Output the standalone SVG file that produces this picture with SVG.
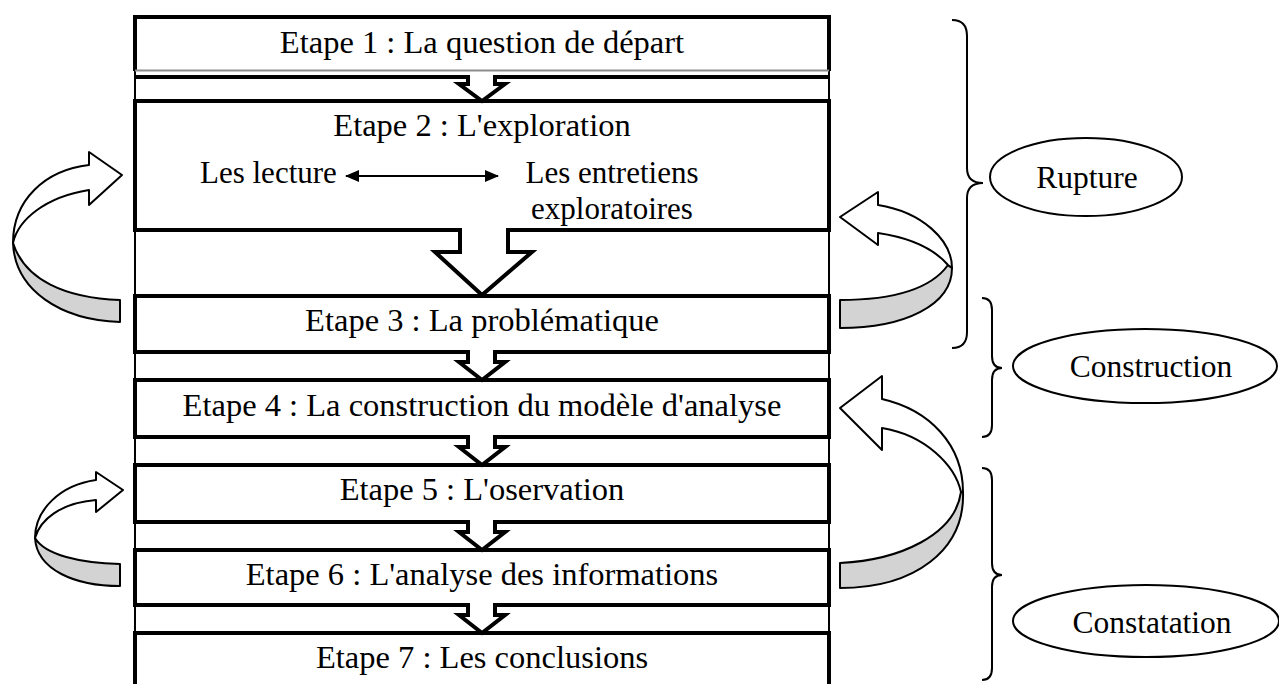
<svg xmlns="http://www.w3.org/2000/svg" width="1279" height="684" viewBox="0 0 1279 684">
<defs>
<style>
.box{fill:none;stroke:#000;stroke-width:4}
.frame{fill:none;stroke:#000;stroke-width:2}
.t{font-size:32.5px;fill:#000}
.s{font-size:31px;fill:#000}
.e{font-size:31.5px;fill:#000}
.m{text-anchor:middle}
.dn{fill:#fff;stroke:#000;stroke-width:4;stroke-linejoin:miter}
.er{fill:#fff;stroke:none}
.cw{fill:#fff;stroke:#000;stroke-width:2;stroke-linejoin:round}
.cg{fill:#d3d3d3;stroke:#000;stroke-width:2;stroke-linejoin:round}
.br{fill:none;stroke:#000;stroke-width:2}
.el{fill:#fff;stroke:#000;stroke-width:2}
</style>
<marker id="ah" viewBox="0 0 14 12" refX="13" refY="6" markerWidth="14" markerHeight="12" orient="auto-start-reverse" markerUnits="userSpaceOnUse">
<path d="M0,0 L14,6 L0,12 z" fill="#000"/>
</marker>
</defs>
<rect width="1279" height="684" fill="#fff"/>

<g id="frame">
<line class="frame" x1="135" y1="17" x2="135" y2="684"/>
<line class="frame" x1="829" y1="17" x2="829" y2="684"/>
</g>

<g id="step1">
<path class="box" d="M135,71 L135,17 L829,17 L829,71"/>
<line x1="135" y1="70.5" x2="829" y2="70.5" stroke="#8c8c8c" stroke-width="2"/>
<text class="t m" font-family="'Liberation Serif', 'Times New Roman', serif" x="482" y="53">Etape 1 : La question de départ</text>
</g>
<line x1="134" y1="77" x2="830" y2="77" stroke="#000" stroke-width="4"/>

<g id="step2">
<rect class="box" x="135" y="101" width="694" height="129"/>
<text class="t m" font-family="'Liberation Serif', 'Times New Roman', serif" x="482" y="136">Etape 2 : L'exploration</text>
<text class="s" font-family="'Liberation Serif', 'Times New Roman', serif" x="200" y="183">Les lecture</text>
<text class="s m" font-family="'Liberation Serif', 'Times New Roman', serif" x="612" y="183">Les entretiens</text>
<text class="s m" font-family="'Liberation Serif', 'Times New Roman', serif" x="612" y="219">exploratoires</text>
<line x1="346" y1="176" x2="498" y2="176" stroke="#000" stroke-width="2" marker-start="url(#ah)" marker-end="url(#ah)"/>
</g>

<g id="step3">
<rect class="box" x="135" y="296" width="694" height="56"/>
<text class="t m" font-family="'Liberation Serif', 'Times New Roman', serif" x="482" y="331">Etape 3 : La problématique</text>
</g>
<g id="step4">
<rect class="box" x="135" y="380" width="694" height="57"/>
<text class="t m" font-family="'Liberation Serif', 'Times New Roman', serif" x="482" y="416">Etape 4 : La construction du modèle d'analyse</text>
</g>
<g id="step5">
<rect class="box" x="135" y="465" width="694" height="57"/>
<text class="t m" font-family="'Liberation Serif', 'Times New Roman', serif" x="482" y="500">Etape 5 : L'oservation</text>
</g>
<g id="step6">
<rect class="box" x="135" y="550" width="694" height="55"/>
<text class="t m" font-family="'Liberation Serif', 'Times New Roman', serif" x="482" y="585">Etape 6 : L'analyse des informations</text>
</g>
<g id="step7">
<rect class="box" x="135" y="633" width="694" height="80"/>
<text class="t m" font-family="'Liberation Serif', 'Times New Roman', serif" x="482" y="668">Etape 7 : Les conclusions</text>
</g>

<g id="rupture">
<ellipse class="el" cx="1086" cy="177" rx="96" ry="39"/>
<text class="e m" font-family="'Liberation Serif', 'Times New Roman', serif" x="1087" y="188">Rupture</text>
</g>
<g id="construction">
<ellipse class="el" cx="1145" cy="366" rx="132" ry="37"/>
<text class="e m" font-family="'Liberation Serif', 'Times New Roman', serif" x="1151" y="377">Construction</text>
</g>
<g id="constatation">
<ellipse class="el" cx="1146" cy="621" rx="133" ry="36"/>
<text class="e m" font-family="'Liberation Serif', 'Times New Roman', serif" x="1152" y="633">Constatation</text>
</g>

<g id="connectors">
<rect class="er" x="470" y="74" width="23" height="6"/>
<path class="dn" d="M468,77 L468,84 L459,84 L482,101 L505,84 L495,84 L495,77"/>
<rect class="er" x="470" y="349" width="23" height="6"/>
<path class="dn" d="M468,352 L468,362 L459,362 L482,380 L505,362 L495,362 L495,352"/>
<rect class="er" x="470" y="434" width="23" height="6"/>
<path class="dn" d="M468,437 L468,447 L459,447 L482,465 L505,447 L495,447 L495,437"/>
<rect class="er" x="470" y="519" width="23" height="6"/>
<path class="dn" d="M468,522 L468,532 L459,532 L482,550 L505,532 L495,532 L495,522"/>
<rect class="er" x="470" y="602" width="23" height="6"/>
<path class="dn" d="M468,605 L468,615 L459,615 L482,633 L505,615 L495,615 L495,605"/>
<rect class="er" x="462" y="227" width="44" height="6"/>
<path class="dn" d="M460,230 L460,252 L435,252 L482,295 L532,252 L508,252 L508,230"/>

<path class="cg" d="M13,243 C15,290 60,320 120,322 L120,300 C65,298 25,280 13,243 Z"/>
<path class="cw" d="M89,165 C45,170 13,200 13,243 C18,220 45,197 89,190 L89,205 L122,175 L89,152 Z"/>
<path class="cg" d="M35,538 C37,570 75,586 120,586 L120,564 C80,563 45,555 35,538 Z"/>
<path class="cw" d="M96,480 C60,485 35,510 35,538 C40,520 60,503 96,500 L96,512 L123,490 L96,472 Z"/>
<path class="cg" d="M948,265 C930,290 890,300 840,300 L840,328 C905,328 952,305 952,268 Z"/>
<path class="cw" d="M878,205 C922,212 952,240 952,268 L948,265 C935,250 912,238 878,233 L878,245 L840,217 L878,192 Z"/>
<path class="cg" d="M961,492 C955,535 900,560 840,563 L840,588 C915,588 965,550 963,492 Z"/>
<path class="cw" d="M882,399 C930,410 963,445 963,492 L961,492 C955,465 925,435 882,428 L882,450 L840,408 L882,376 Z"/>

<path class="br" d="M952,20 Q967,20 967,36 L967,168 Q967,183 983,183 Q967,183 967,198 L967,332 Q967,348 952,348"/>
<path class="br" d="M982,298 Q992,298 992,310 L992,356 Q992,368 1002,368 Q992,368 992,380 L992,425 Q992,437 982,437"/>
<path class="br" d="M982,468 Q992,468 992,480 L992,563 Q992,575 1002,575 Q992,575 992,587 L992,668 Q992,680 982,680"/>
</g>
</svg>
